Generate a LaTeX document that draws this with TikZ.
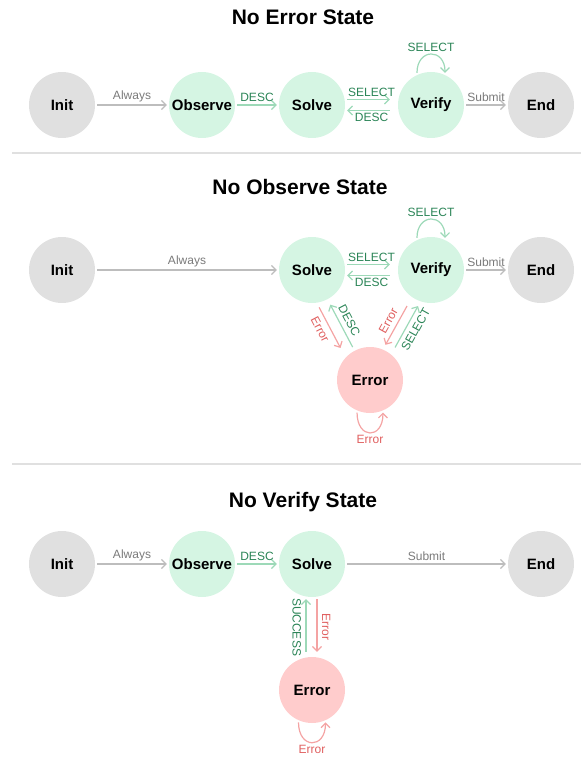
\documentclass[tikz,border=0pt]{standalone}
\usepackage{fontspec}
\setmainfont{Liberation Sans}
\usetikzlibrary{arrows.meta}
\definecolor{greyfill}{HTML}{E0E0E0}
\definecolor{greenfill}{HTML}{D5F5E3}
\definecolor{errorfill}{HTML}{FFCCCC}
\definecolor{greyline}{HTML}{BDBDBD}
\definecolor{greytext}{HTML}{7A7A7A}
\definecolor{greenline}{HTML}{9DD9B8}
\definecolor{greentext}{HTML}{2A8456}
\definecolor{redline}{HTML}{F4A3A3}
\definecolor{redtext}{HTML}{E06060}
\tikzset{
grey state/.style = {circle, draw = none, fill = greyfill, minimum size = 66pt, inner sep = 0pt, font = \bfseries\fontsize{15}{17}\selectfont},
green state/.style = {grey state, fill = greenfill},
error state/.style = {grey state, fill = errorfill},
title/.style = {font = \bfseries\fontsize{21}{24}\selectfont},
base edge/.style = {line width = 1.2pt, -{Straight Barb[length = 4.5pt, width = 9pt]}, shorten < = 2pt, shorten > = 2pt},
grey edge/.style = {base edge, draw = greyline},
green edge/.style = {base edge, draw = greenline},
red edge/.style = {base edge, draw = redline},
grey label/.style = {text = greytext, font = \fontsize{12}{14}\selectfont, inner sep = 2.5pt},
green label/.style = {grey label, text = greentext},
red label/.style = {grey label, text = redtext},
far/.style = {inner sep = 4.5pt},
}
\begin{document}
\begin{tikzpicture}[x = 1pt, y = -1pt]
    \useasboundingbox (0, 0) rectangle (581, 759);
    % No Error State
    \node[title] (title1) at (303, 17) {No Error State};
    \node[grey state] (init1) at (62, 105) {Init};
    \node[green state] (observe1) at (202, 105) {Observe};
    \node[green state] (solve1) at (312, 105) {Solve};
    \node[green state] (verify1) at (431, 105) {Verify};
    \node[grey state] (end1) at (541, 105) {End};
    \draw[grey edge] (init1) -- node[above, grey label] {Always} (observe1);
    \draw[green edge] (observe1) -- node[above, green label] {DESC} (solve1);
    \draw[green edge, shorten > = 8pt] ([yshift = 5.5pt]solve1.east) -- node[above, green label] {SELECT} ([yshift = 5.5pt]verify1.west);
    \draw[green edge, shorten < = 8pt] ([yshift = -5.5pt]verify1.west) -- node[below, green label] {DESC} ([yshift = -5.5pt]solve1.east);
    \draw[green edge] (verify1.115) .. controls +(0, -27) and +(0, -27) .. node[above, green label] {SELECT} (verify1.65);
    \draw[grey edge] (verify1) -- node[above, grey label] {Submit} (end1);
    \path[draw = greyfill, line width = 1.5pt] (12, 153) -- (581, 153);
    % No Observe State
    \node[title] (title2) at (300, 187) {No Observe State};
    \node[grey state] (init2) at (62, 270) {Init};
    \node[green state] (solve2) at (312, 270) {Solve};
    \node[green state] (verify2) at (431, 270) {Verify};
    \node[grey state] (end2) at (541, 270) {End};
    \node[error state] (error2) at (370, 380) {Error};
    \draw[grey edge] (init2) -- node[above, grey label] {Always} (solve2);
    \draw[green edge, shorten > = 8pt] ([yshift = 5.5pt]solve2.east) -- node[above, green label] {SELECT} ([yshift = 5.5pt]verify2.west);
    \draw[green edge, shorten < = 8pt] ([yshift = -5.5pt]verify2.west) -- node[below, green label] {DESC} ([yshift = -5.5pt]solve2.east);
    \draw[green edge] (verify2.115) .. controls +(0, -27) and +(0, -27) .. node[above, green label] {SELECT} (verify2.65);
    \draw[grey edge] (verify2) -- node[above, grey label] {Submit} (end2);
    \draw[red edge, shorten < = 9pt, shorten > = 3pt, transform canvas = {xshift = -12.6pt}] (solve2) -- node[sloped, below, red label, far] {Error} (error2);
    \draw[green edge, shorten < = 4pt, shorten > = 6pt] (error2) -- node[sloped, above, green label, far] {DESC} (solve2);
    \draw[red edge, shorten < = 8pt, shorten > = 7pt, transform canvas = {xshift = -4pt}] (verify2) -- node[sloped, above, red label, far] {Error} (error2);
    \draw[green edge, shorten < = 4pt, shorten > = 8pt, transform canvas = {xshift = 7pt}] (error2) -- node[sloped, below, green label, far] {SELECT} (verify2);
    \draw[red edge] (error2.247) .. controls +(0, 29) and +(0, 29) .. node[below, red label] {Error} (error2.293);
    \path[draw = greyfill, line width = 1.5pt] (12, 464) -- (581, 464);
    % No Verify State
    \node[title] (title3) at (303, 502) {No Verify State};
    \node[grey state] (init3) at (62, 564) {Init};
    \node[green state] (observe3) at (202, 564) {Observe};
    \node[green state] (solve3) at (312, 564) {Solve};
    \node[grey state] (end3) at (541, 564) {End};
    \node[error state] (error3) at (312, 690) {Error};
    \draw[grey edge] (init3) -- node[above, grey label] {Always} (observe3);
    \draw[green edge] (observe3) -- node[above, green label] {DESC} (solve3);
    \draw[grey edge] (solve3) -- node[above, grey label] {Submit} (end3);
    \draw[green edge, shorten < = 5pt] ([xshift = -6pt]error3.north) -- node[rotate = -90, anchor = north, green label, far] {SUCCESS} ([xshift = -6pt]solve3.south);
    \draw[red edge, shorten > = 5pt] ([xshift = 5pt]solve3.south) -- node[rotate = -90, anchor = south, red label, far] {Error} ([xshift = 5pt]error3.north);
    \draw[red edge] (error3.246) .. controls +(0, 29) and +(0, 29) .. node[below, red label] {Error} (error3.294);
\end{tikzpicture}
\end{document}
